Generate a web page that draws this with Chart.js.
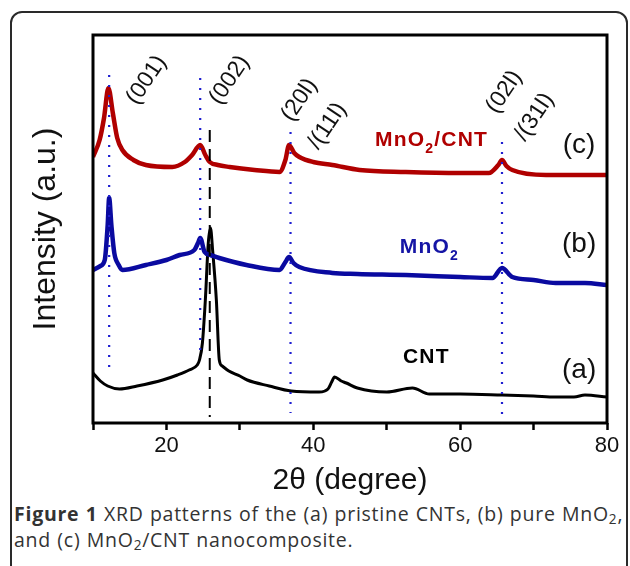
<!DOCTYPE html>
<html><head><meta charset="utf-8">
<script src="https://cdn.jsdelivr.net/npm/chart.js@4.4.1/dist/chart.umd.min.js"></script>
<style>
html,body{margin:0;padding:0;background:#fff;}
body{width:630px;height:566px;position:relative;overflow:hidden;}
#frame{position:absolute;left:10px;top:11px;width:618px;height:640px;border:2px solid #2a2a2a;border-radius:12px;box-sizing:border-box;}
#wrap{position:absolute;left:0;top:0;width:630px;height:500px;}
#cap{position:absolute;left:14px;top:501px;width:620px;font-family:"Open Sans",sans-serif;font-size:19.5px;letter-spacing:0.75px;word-spacing:0.5px;line-height:26px;color:#333;white-space:nowrap;}
#cap sub{font-size:0.7em;vertical-align:-0.25em;line-height:0;}
</style></head><body>
<div id="frame"></div>
<div id="wrap"><canvas id="c" width="630" height="500"></canvas></div>
<div id="cap"><b>Figure 1</b> XRD patterns of the (a) pristine CNTs, (b) pure MnO<sub>2</sub>,<br>and (c) MnO<sub>2</sub>/CNT nanocomposite.</div>
<script>
// ---- data (2θ in degrees, intensity in arbitrary units) ----
const cntTheta = [10, 11, 12, 13.6, 16, 19.5, 21.5, 23.1, 24.2, 24.5, 24.9, 25.3, 25.7, 26.0, 26.3, 26.8, 27.2, 27.6, 28.5, 30, 31, 34, 37, 40.8, 42, 42.5, 42.9, 43.8, 44.5, 46, 50, 53.5, 55.8, 60, 65.7, 70, 73, 75.5, 77, 80];
const cntIntensity = [50, 42, 37, 34, 37, 43, 48, 53, 58, 63, 80, 123, 180, 195, 172, 123, 63, 57, 52, 47, 43, 37, 32, 31, 34, 41, 46, 42, 40, 35, 31, 35, 29, 29, 28, 27, 26, 26, 28, 26];

const mnoTheta = [10, 11, 11.6, 12.0, 12.2, 12.5, 12.9, 13.5, 14, 17.2, 20, 21.8, 23.8, 24.3, 24.6, 25.2, 26, 27.2, 30.9, 35.4, 36.2, 36.7, 37.3, 38.1, 42.6, 46, 52.6, 60, 64.4, 65.7, 67.1, 70, 73, 77, 80];
const mnoIntensity = [153, 157, 163, 198, 225, 198, 170, 158, 153, 158, 163, 168, 173, 180, 185, 171, 168, 165, 158, 153, 161, 166, 160, 156, 150, 149, 148, 146, 145, 155, 146, 143, 140, 140, 138];

const compTheta = [10, 10.9, 11.5, 12.1, 12.7, 13.3, 14, 15.5, 17.2, 20.8, 22.5, 23.5, 24.6, 25.3, 25.9, 27, 28.6, 32, 35.4, 36.2, 36.7, 37.4, 38.1, 40, 42.6, 46.3, 52.6, 60, 63.9, 65.2, 65.7, 66.3, 67.1, 71.7, 76, 80];
const compIntensity = [266, 283, 305, 335, 310, 285, 273, 263, 258, 256, 261, 268, 278, 268, 261, 258, 256, 253, 251, 263, 278, 270, 266, 261, 258, 253, 251, 250, 250, 258, 263, 257, 253, 248, 248, 248];

// reflection markers (dotted, MnO2) and CNT (002) marker (dashed)
const refTheta = [12.2, 24.6, 36.9, 65.7];
const refTop = [348, 345, 291, 281];
const refBottom = [56, 65, 10, 1];
const cntRefTheta = [25.9];
const cntRefTop = [293];
const cntRefBottom = [6];

const xTicks = [20, 40, 60, 80];
const peakLabels = ['(001)', '(002)', '(20l)', '/(11l)', '(02l)', '/(31l)'];
const seriesNames = ['CNT', 'MnO2', 'MnO2/CNT'];
const panelTags = ['(a)', '(b)', '(c)'];

// ---- build datasets ----
const zip = (xs, ys) => xs.map((v, i) => ({x: v, y: ys[i]}));
const datasets = [];
refTheta.forEach((t, i) => datasets.push({
  data: [{x: t, y: refTop[i]}, {x: t, y: refBottom[i]}],
  borderColor: '#1f1fd0', borderWidth: 2.2, borderDash: [2, 8], pointRadius: 0, tension: 0
}));
cntRefTheta.forEach((t, i) => datasets.push({
  data: [{x: t, y: cntRefTop[i]}, {x: t, y: cntRefBottom[i]}],
  borderColor: '#000', borderWidth: 2, borderDash: [12, 7], pointRadius: 0, tension: 0
}));
datasets.push({label: seriesNames[2], data: zip(compTheta, compIntensity), borderColor: '#b00000', borderWidth: 4.5, pointRadius: 0, cubicInterpolationMode: 'monotone'});
datasets.push({label: seriesNames[1], data: zip(mnoTheta, mnoIntensity), borderColor: '#0a0aa0', borderWidth: 4.5, pointRadius: 0, cubicInterpolationMode: 'monotone'});
datasets.push({label: seriesNames[0], data: zip(cntTheta, cntIntensity), borderColor: '#000', borderWidth: 3, pointRadius: 0, cubicInterpolationMode: 'monotone'});

// ---- annotations (positions in data coords) ----
const peakLabelPos = [[17.3, 343], [28.6, 343], [38.1, 323], [41.9, 297], [66.0, 331], [70.1, 306]];
const namePos = [[55.4, 66, '#000'], [55.8, 176, '#1515a5'], [56.1, 283, '#b00000']];
const tagPos = [[76.2, 53], [76.2, 179], [76.2, 278]];

function drawSubText(ctx, text, cx, cy, size) {
  const parts = [];
  const re = /O2/g;
  let last = 0, m;
  while ((m = re.exec(text))) {
    parts.push([text.slice(last, m.index + 1), false]);
    parts.push(['2', true]);
    last = m.index + 2;
  }
  parts.push([text.slice(last), false]);
  const fMain = 'bold ' + size + 'px "Liberation Sans", Arial, sans-serif';
  const fSub = 'bold ' + Math.round(size * 0.68) + 'px "Liberation Sans", Arial, sans-serif';
  let w = 0;
  parts.forEach(p => { ctx.font = p[1] ? fSub : fMain; w += ctx.measureText(p[0]).width + 1.2 * p[0].length; });
  let xx = cx - w / 2;
  ctx.textAlign = 'left'; ctx.textBaseline = 'middle';
  parts.forEach(p => {
    ctx.font = p[1] ? fSub : fMain;
    for (const ch of p[0]) {
      ctx.fillText(ch, xx, p[1] ? cy + size * 0.42 : cy);
      xx += ctx.measureText(ch).width + 1.2;
    }
  });
}

const annot = {
  id: 'annot',
  afterDraw(chart) {
    const {ctx, chartArea: a, scales: {x, y}} = chart;
    ctx.save();
    ctx.strokeStyle = '#000'; ctx.lineWidth = 3;
    ctx.strokeRect(a.left, a.top, a.right - a.left, a.bottom - a.top);
    ctx.fillStyle = '#111';
    ctx.font = '23px "Liberation Sans", Arial, sans-serif';
    ctx.textAlign = 'center'; ctx.textBaseline = 'middle';
    peakLabels.forEach((t, i) => {
      const px = x.getPixelForValue(peakLabelPos[i][0]), py = y.getPixelForValue(peakLabelPos[i][1]);
      ctx.save(); ctx.translate(px, py); ctx.rotate(-56 * Math.PI / 180);
      ctx.fillText(t, 0, 0); ctx.restore();
    });
    seriesNames.forEach((t, i) => {
      ctx.fillStyle = namePos[i][2];
      drawSubText(ctx, t, x.getPixelForValue(namePos[i][0]), y.getPixelForValue(namePos[i][1]), 21);
    });
    ctx.fillStyle = '#111';
    ctx.font = '28px "Liberation Sans", Arial, sans-serif';
    ctx.textAlign = 'center'; ctx.textBaseline = 'middle';
    panelTags.forEach((t, i) => ctx.fillText(t, x.getPixelForValue(tagPos[i][0]), y.getPixelForValue(tagPos[i][1])));
    ctx.restore();
  }
};

new Chart(document.getElementById('c'), {
  type: 'line',
  data: {datasets},
  options: {
    responsive: false, animation: false, devicePixelRatio: 1,
    layout: {padding: {left: 0, top: 35, right: 23, bottom: 0}},
    plugins: {legend: {display: false}, tooltip: {enabled: false}},
    scales: {
      x: {
        type: 'linear', min: 10, max: 80,
        afterFit: s => { s.height = 77; },
        border: {display: false},
        grid: {display: true, drawOnChartArea: false, drawTicks: true, tickLength: 7, tickWidth: 2.5, tickColor: '#000'},
        ticks: {stepSize: 10, autoSkip: false, maxRotation: 0, padding: 3, color: '#111',
          font: {family: '"Liberation Sans", Arial, sans-serif', size: 22},
          callback: v => xTicks.includes(v) ? String(v) : ''},
        title: {display: true, text: '2\u03b8 (degree)', color: '#111', padding: {top: 0, bottom: 1},
          font: {family: '"Liberation Sans", Arial, sans-serif', size: 30}}
      },
      y: {
        min: 0, max: 388,
        afterFit: s => { s.width = 93; },
        border: {display: false},
        grid: {display: false},
        ticks: {display: false},
        title: {display: true, text: 'Intensity (a.u.)', color: '#111', padding: {top: 27, bottom: 0},
          font: {family: '"Liberation Sans", Arial, sans-serif', size: 32}}
      }
    }
  },
  plugins: [annot]
});
</script>
</body></html>
